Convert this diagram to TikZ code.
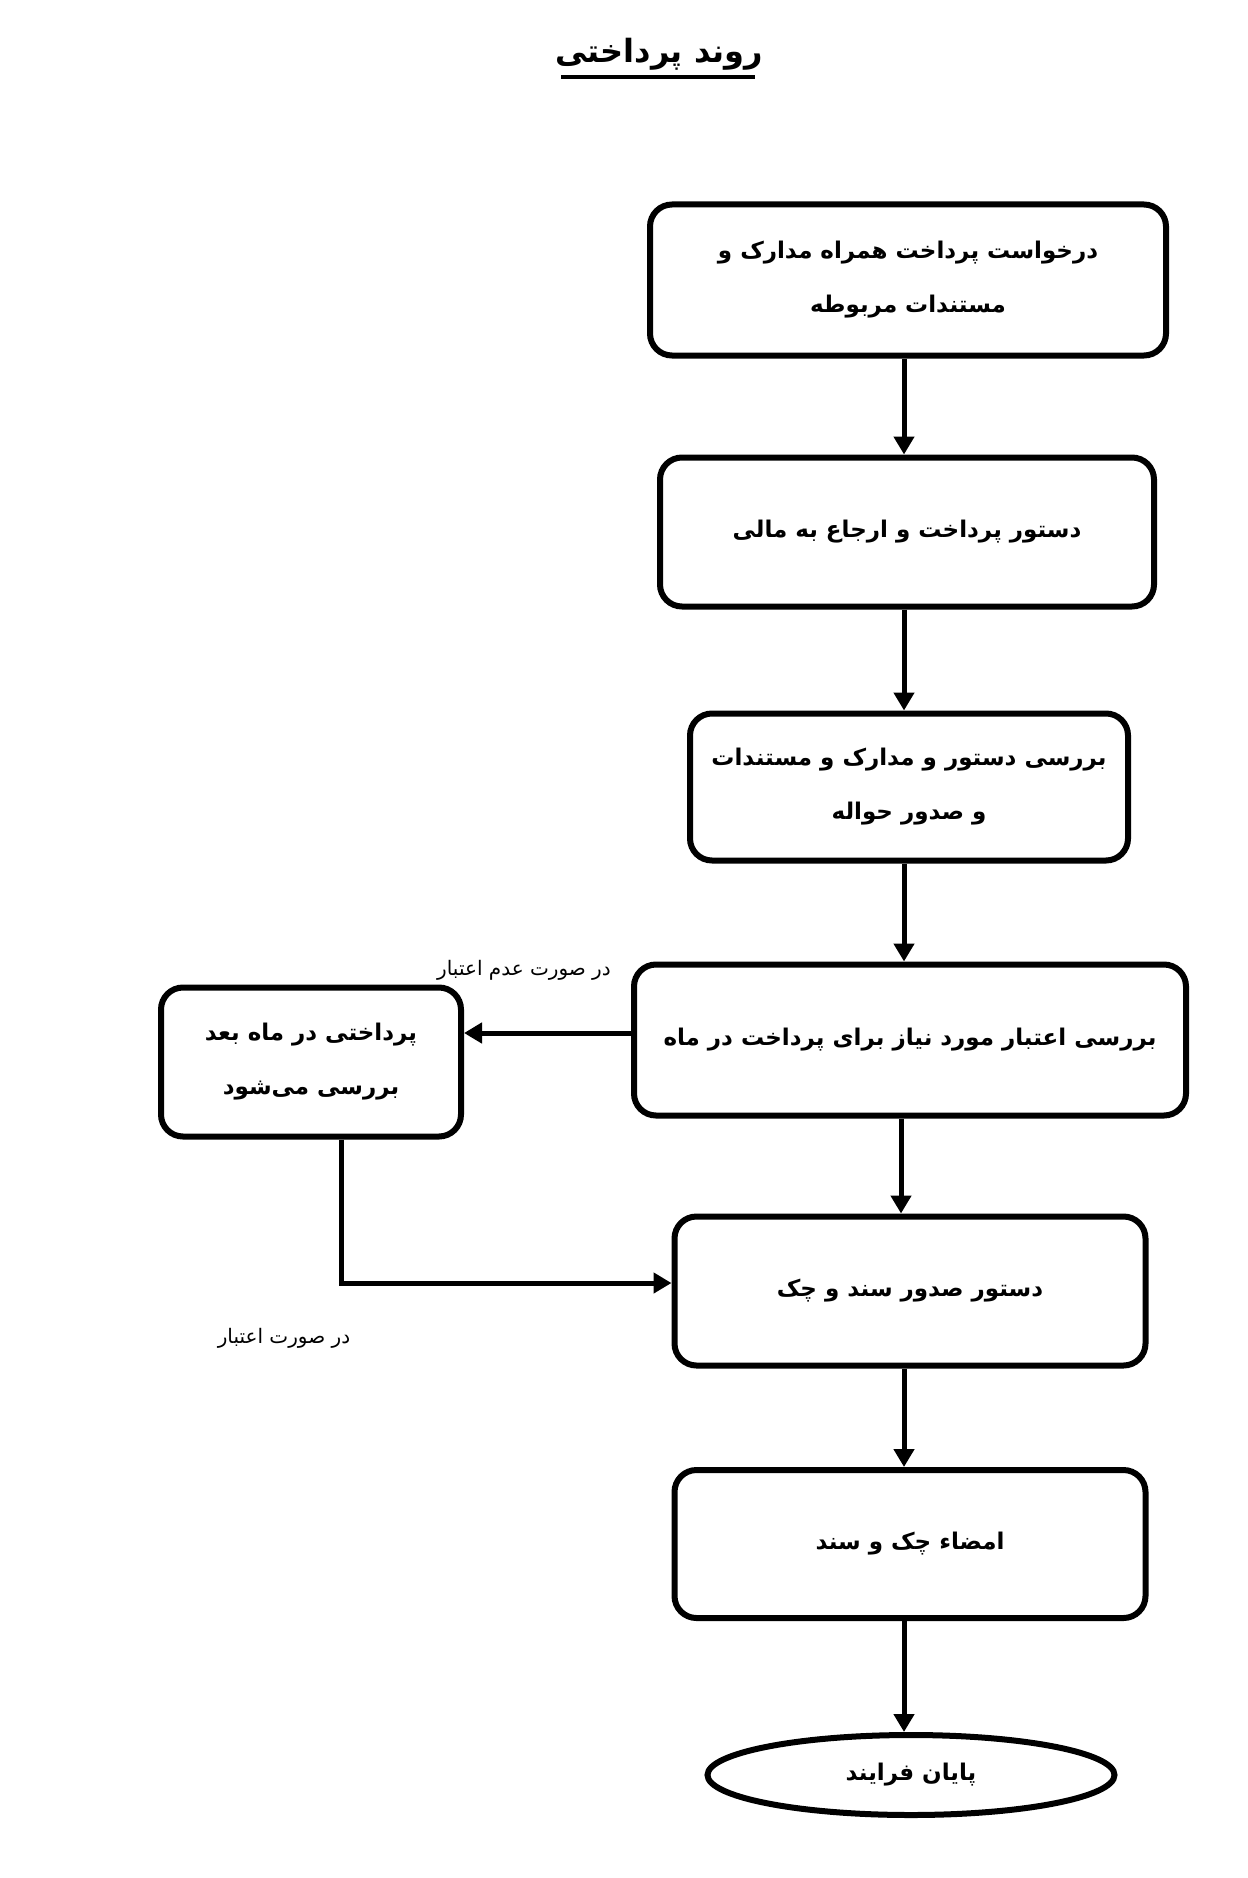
\documentclass[tikz,border=0pt]{standalone}
\usepackage{fontspec}
\usetikzlibrary{arrows.meta,shapes.geometric}
\TeXXeTstate=1
\newfontfamily\fa[Script=Arabic]{DejaVu Sans}
\newcommand{\rl}[1]{\beginR #1\endR}
\begin{document}
\begin{tikzpicture}[x=1pt,y=-1pt,
  box/.style={draw, line width=6pt, rounded corners=22pt, align=center,
    font=\fa\bfseries\fontsize{23}{54}\selectfont, inner sep=0pt},
  endnode/.style={draw, ellipse, line width=6pt, inner sep=0pt,
    font=\fa\bfseries\fontsize{23}{54}\selectfont},
  arr/.style={line width=5pt, -{Triangle[width=20pt,length=18pt]}},
  lbl/.style={font=\fa\fontsize{20}{24}\selectfont, inner sep=0pt}]
\useasboundingbox[fill=white] (0,0) rectangle (1247,1878);
\coordinate (ax) at (904,0);
\coordinate (bx) at (901,0);
\coordinate (sx) at (341,0);
\node[font=\fa\bfseries\fontsize{32}{40}\selectfont, inner sep=0pt] (title) at (659,54) {\rl{روند پرداختی}};
\draw[line width=3.5pt] (561,77) -- (755,77);
\node[box, minimum width=516pt, minimum height=151pt] (b1) at (908,280) {\rl{درخواست پرداخت همراه مدارک و}\\\rl{مستندات مربوطه}};
\node[box, minimum width=494pt, minimum height=149pt] (b2) at (907,532) {\rl{دستور پرداخت و ارجاع به مالی}};
\node[box, minimum width=438pt, minimum height=147pt] (b3) at (909,787) {\rl{بررسی دستور و مدارک و مستندات}\\\rl{و صدور حواله}};
\node[box, minimum width=552pt, minimum height=151pt] (b4) at (910,1040) {\rl{بررسی اعتبار مورد نیاز برای پرداخت در ماه}};
\node[box, minimum width=300pt, minimum height=149pt] (bs) at (311,1062) {\rl{پرداختی در ماه بعد}\\\rl{بررسی می‌شود}};
\node[box, minimum width=471pt, minimum height=149pt] (b5) at (910,1291) {\rl{دستور صدور سند و چک}};
\node[box, minimum width=471pt, minimum height=148pt] (b6) at (910,1544) {\rl{امضاء چک و سند}};
\node[endnode, minimum width=407pt, minimum height=80pt] (e) at (911,1775) {\rl{پایان فرایند}};
\node[lbl] (l1) at (524,970) {\rl{در صورت عدم اعتبار}};
\node[lbl] (l2) at (284,1338) {\rl{در صورت اعتبار}};
\draw[arr] (b1.south -| ax) -- (b2.north -| ax);
\draw[arr] (b2.south -| ax) -- (b3.north -| ax);
\draw[arr] (b3.south -| ax) -- (b4.north -| ax);
\draw[arr] (b4.south -| bx) -- (b5.north -| bx);
\draw[arr] (b5.south -| ax) -- (b6.north -| ax);
\draw[arr] (b6.south -| ax) -- (e.north -| ax);
\draw[arr] (b4.west |- 0,1033) -- (bs.east |- 0,1033);
\draw[arr] (bs.south -| sx) |- (b5.west |- 0,1283);
\end{tikzpicture}
\end{document}
